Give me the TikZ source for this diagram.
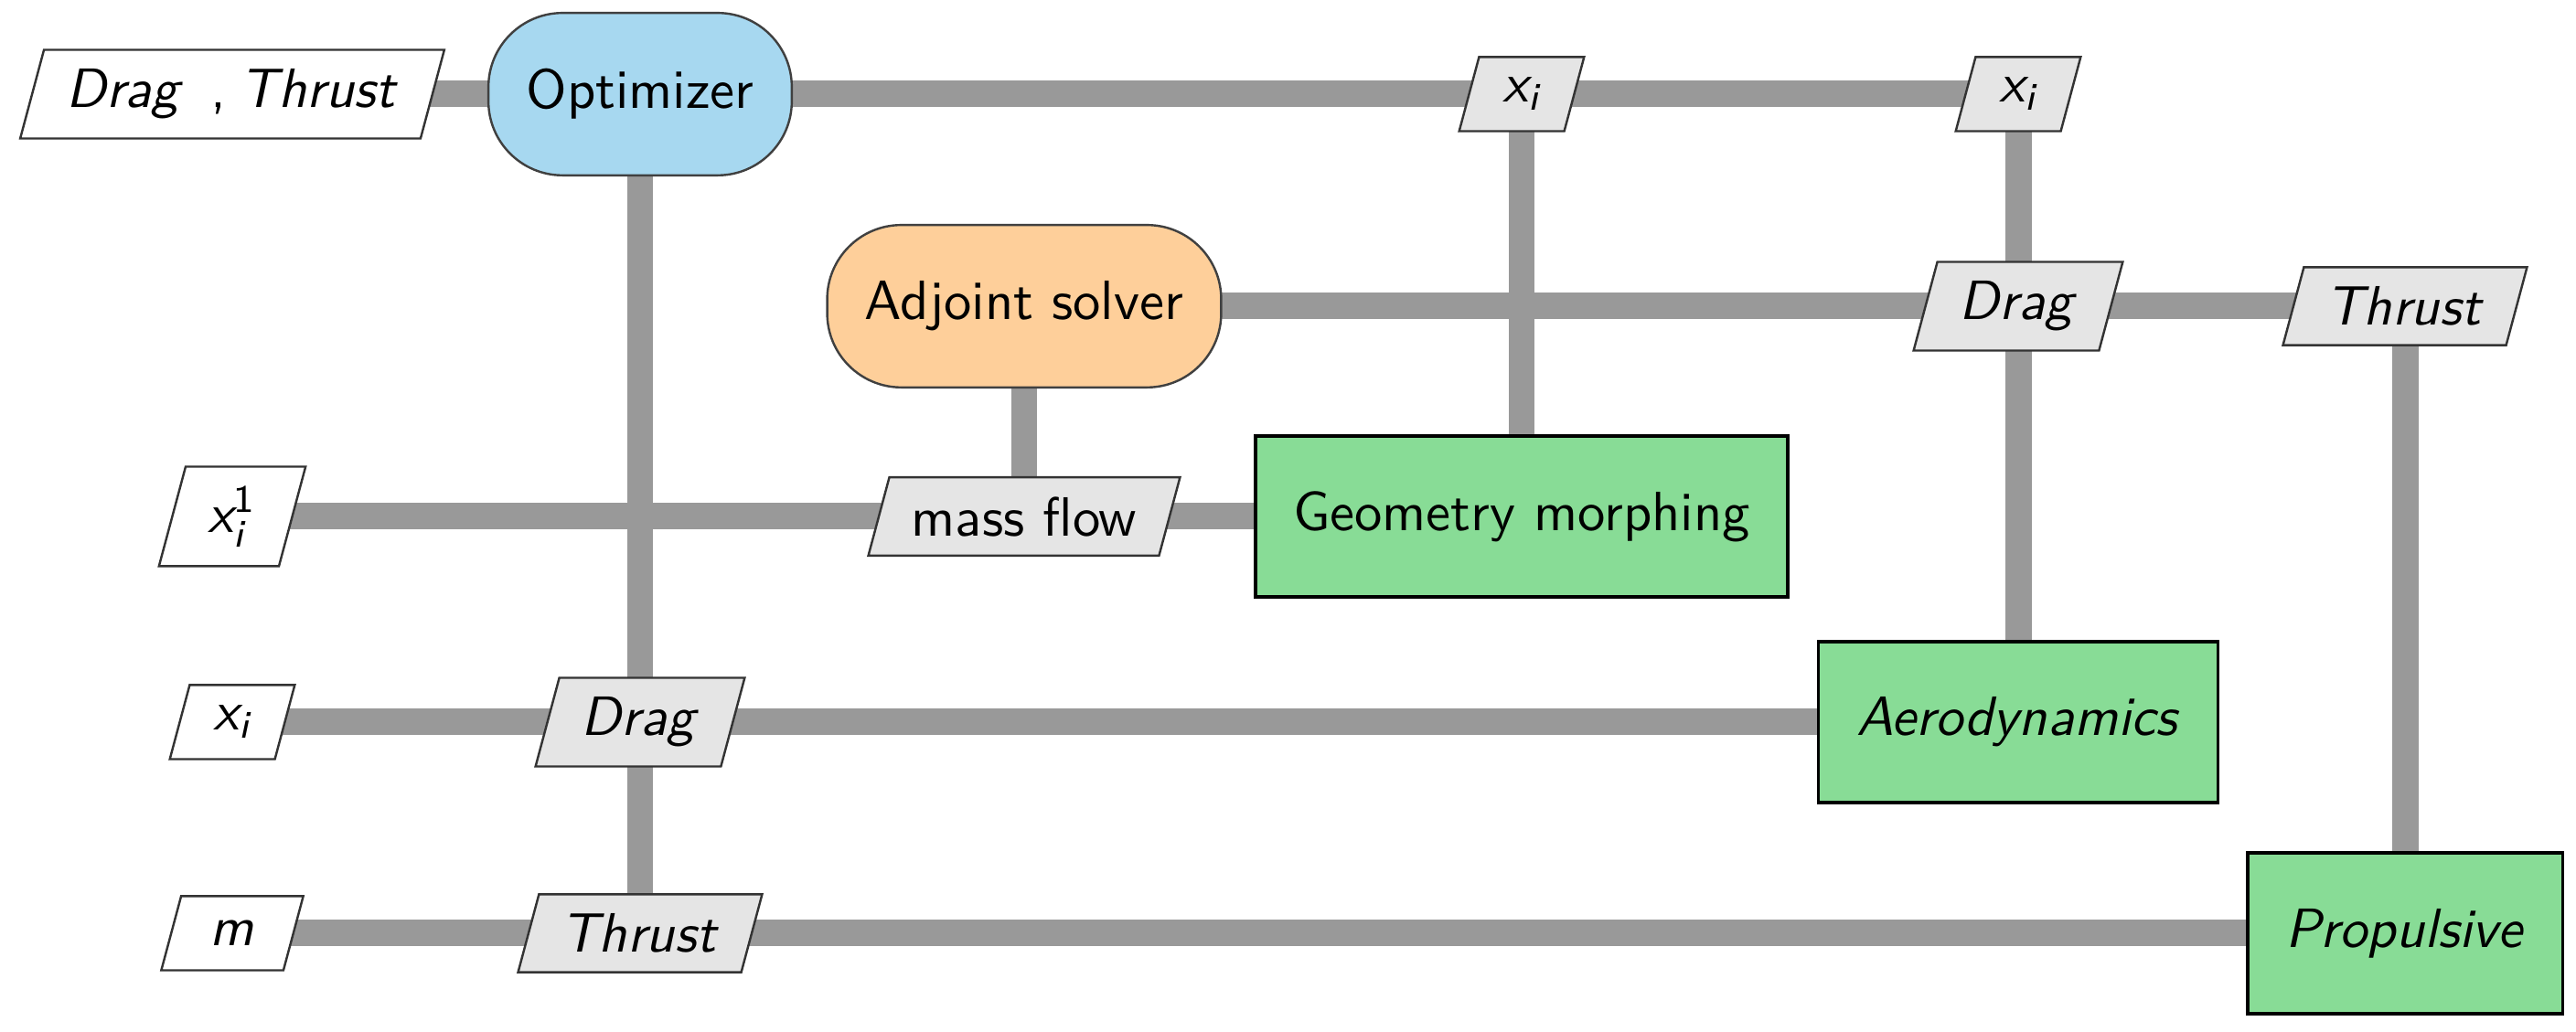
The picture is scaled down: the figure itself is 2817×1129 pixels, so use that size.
\documentclass[tikz,border=0pt]{standalone}
\usepackage{amsmath}
\usepackage{fontspec}
\usepackage{xcolor}
\usepackage{tikz}
\usetikzlibrary{shapes.geometric, backgrounds}

\definecolor{optblue}{HTML}{A7D8F0}
\definecolor{adjorange}{HTML}{FECF9A}
\definecolor{funcgreen}{HTML}{88DC96}
\definecolor{linkgray}{HTML}{999999}

\begin{document}
\begin{tikzpicture}[
  x = 0.0058cm, y = -0.0058cm,
  font = \sffamily,
  optnode/.style = {rectangle, rounded corners=0.47cm, draw=black!75,
    fill=optblue, inner xsep=0.24cm, minimum height=1.03cm},
  adjnode/.style = {optnode, fill=adjorange},
  funcnode/.style = {rectangle, draw=black, line width=0.6pt,
    fill=funcgreen, inner xsep=0.24cm, minimum height=1.02cm},
  datanode/.style = {trapezium, trapezium left angle=75,
    trapezium right angle=105, draw=black!80, fill=gray!20,
    inner xsep=4pt, inner ysep=3.5pt, minimum height=0.47cm},
  ionode/.style = {datanode, fill=white},
  link/.style = {line width=0.168cm, linkgray},
]
\useasboundingbox (0,0) rectangle (2817,1129);

% Top row: optimizer and design variables
\node[ionode] (dtin) at (254,103)
  {\textit{Drag}\hspace{0.5em},\hspace{0.25em}\textit{Thrust}\hspace{0.5em}};
\node[optnode] (opt) at (700,103) {Optimizer};
\node[datanode] (xtop1) at (1664,103) {$\textit{x}_{\textit{i}}$};
\node[datanode] (xtop2) at (2207,103) {$\textit{x}_{\textit{i}}$};

% Adjoint row
\node[adjnode] (adj) at (1120,335) {Adjoint solver};
\node[datanode] (dragr) at (2207,335) {\textit{Drag}};
\node[datanode] (thrr) at (2630,335) {\textit{Thrust}};

% Geometry row
\node[ionode] (xone) at (254,565) {$\textit{x}_{\textit{i}}^{\textup{1}}$};
\node[datanode] (mflow) at (1120,565) {mass flow};
\node[funcnode] (geom) at (1664,565) {Geometry morphing};

% Aerodynamics row
\node[ionode] (xin) at (254,790) {$\textit{x}_{\textit{i}}$};
\node[datanode] (dragl) at (700,790) {\textit{Drag}};
\node[funcnode] (aero) at (2207,790) {\textit{Aerodynamics}};

% Propulsion row
\node[ionode] (min) at (254,1021) {\textit{m}};
\node[datanode] (thrl) at (700,1021) {\textit{Thrust}};
\node[funcnode] (prop) at (2630,1021) {\textit{Propulsive}};

% Data connections (behind the blocks)
\begin{scope}[on background layer]
% horizontal
\draw[link] (dtin.center) -- (xtop2.center);
\draw[link] (adj.center) -- (thrr.center);
\draw[link] (xone.center) -- (geom.center);
\draw[link] (xin.center) -- (aero.center);
\draw[link] (min.center) -- (prop.center);
% vertical
\draw[link] (opt.center) -- (thrl.center);
\draw[link] (adj.center) -- (mflow.center);
\draw[link] (xtop1.center) -- (geom.center);
\draw[link] (xtop2.center) -- (aero.center);
\draw[link] (thrr.center) -- (prop.center);
\end{scope}
\end{tikzpicture}
\end{document}
